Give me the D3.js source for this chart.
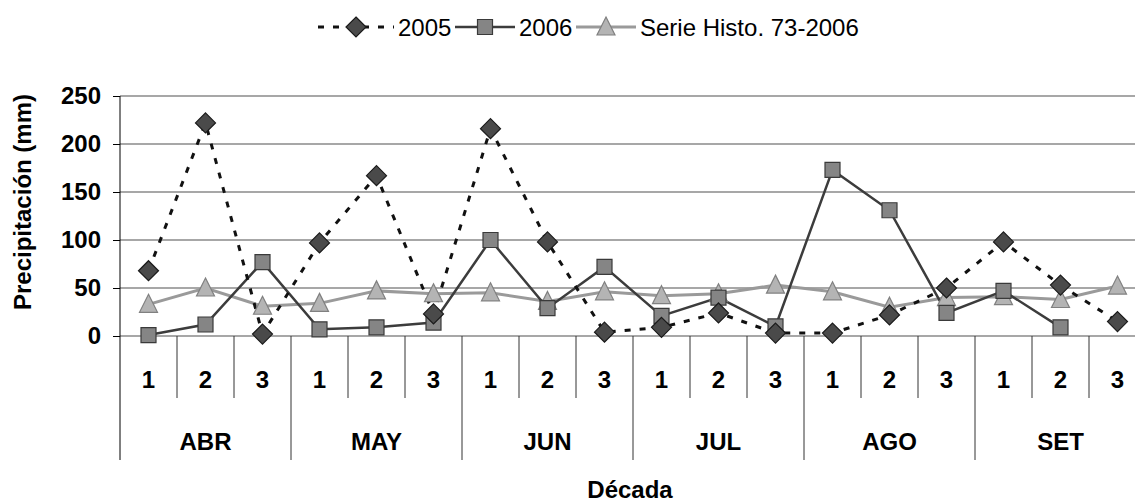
<!DOCTYPE html>
<html lang="es">
<head>
<meta charset="utf-8">
<title>Precipitación por década</title>
<script src="https://cdn.jsdelivr.net/npm/d3@7"></script>
<style>
  body { margin: 0; background: #fff; }
  svg text { font-family: "Liberation Sans", Arial, sans-serif; fill: #000; }
  .bold { font-weight: bold; }
</style>
</head>
<body>
<script>

// categories
var months = ["ABR", "MAY", "JUN", "JUL", "AGO", "SET"];
var decadas = ["1", "2", "3"];

// series values (mm), one per decade, ABR-1 ... SET-3
var serie2005 = [68, 222, 2, 97, 167, 23, 216, 98, 4, 9, 24, 3, 3, 22, 50, 98, 53, 15];
var serie2006 = [1, 12, 77, 7, 9, 14, 100, 29, 72, 21, 40, 10, 173, 131, 24, 47, 9, null];
var serieHist = [33, 50, 31, 34, 47, 44, 45, 36, 46, 42, 44, 53, 46, 30, 40, 41, 38, 52];

var yTicks = [0, 50, 100, 150, 200, 250];
var legendNames = ["2005", "2006", "Serie Histo. 73-2006"];

var width = 1135, height = 502;
var margin = {top: 96, left: 120};
var plotBottom = 336;
var bandW = 57;
var plotRight = margin.left + bandW * 18;   // runs past the window, like the scan

var svg = d3.select("body")
    .append("svg")
    .attr("width", width)
    .attr("height", height);

// category keys
var keys = [];
months.forEach(function(m) {
    decadas.forEach(function(d) { keys.push(m + "-" + d); });
});

var xScale = d3.scaleBand().domain(keys).range([margin.left, plotRight]).padding(0);
var mScale = d3.scaleBand().domain(months).range([margin.left, plotRight]).padding(0);
var yScale = d3.scaleLinear().domain([0, 250]).range([plotBottom, margin.top]);

// gridlines
svg.append("g")
    .selectAll("line")
    .data(yTicks)
    .enter()
    .append("line")
    .attr("x1", margin.left)
    .attr("x2", width)
    .attr("y1", function(d) { return yScale(d); })
    .attr("y2", function(d) { return yScale(d); })
    .attr("stroke", "#8a8a8a")
    .attr("stroke-width", 1.6);

// y axis
var yAxis = d3.axisLeft(yScale).tickValues(yTicks).tickSize(7).tickPadding(12);
var yg = svg.append("g")
    .attr("transform", "translate(" + margin.left + ",0)")
    .call(yAxis);
yg.select(".domain").remove();
yg.selectAll(".tick line").attr("stroke", "#000");
yg.selectAll(".tick text")
    .attr("class", "bold")
    .style("font-size", "24px")
    .attr("font-family", null);

// left axis line, runs down through the label table
svg.append("line")
    .attr("x1", margin.left).attr("x2", margin.left)
    .attr("y1", margin.top).attr("y2", 460)
    .attr("stroke", "#000");

// decade separators
svg.append("g")
    .selectAll("line")
    .data(keys.slice(1))
    .enter()
    .append("line")
    .attr("x1", function(d) { return xScale(d); })
    .attr("x2", function(d) { return xScale(d); })
    .attr("y1", plotBottom)
    .attr("y2", function(d, i) { return ((i + 1) % 3 == 0) ? 460 : 398; })
    .attr("stroke", "#333");

// decade labels
svg.append("g")
    .selectAll("text")
    .data(keys)
    .enter()
    .append("text")
    .attr("class", "bold")
    .attr("text-anchor", "middle")
    .attr("x", function(d) { return xScale(d) + xScale.bandwidth() / 2; })
    .attr("y", 388)
    .style("font-size", "24px")
    .text(function(d) { return d.split("-")[1]; });

// month labels
svg.append("g")
    .selectAll("text")
    .data(months)
    .enter()
    .append("text")
    .attr("class", "bold")
    .attr("text-anchor", "middle")
    .attr("x", function(d) { return mScale(d) + mScale.bandwidth() / 2; })
    .attr("y", 450)
    .style("font-size", "24px")
    .text(function(d) { return d; });

// axis titles
svg.append("text")
    .attr("class", "bold")
    .attr("text-anchor", "middle")
    .attr("transform", "translate(630,498)")
    .style("font-size", "24px")
    .text("Década");

svg.append("text")
    .attr("class", "bold")
    .attr("text-anchor", "middle")
    .attr("transform", "translate(31,202)rotate(-90)")
    .style("font-size", "24px")
    .text("Precipitación (mm)");

// marker shapes
var diamondType = { draw: function(c, s) { var r = Math.sqrt(s) / 2; c.moveTo(0, -r); c.lineTo(r, 0); c.lineTo(0, r); c.lineTo(-r, 0); c.closePath(); } };
var squareType = { draw: function(c, s) { var r = Math.sqrt(s) / 2; c.rect(-r, -r, 2 * r, 2 * r); } };
var triangleType = { draw: function(c, s) { var r = Math.sqrt(s) / 2; c.moveTo(0, -r - 1); c.lineTo(r, r - 1); c.lineTo(-r, r - 1); c.closePath(); } };

var series = [
    {name: legendNames[0], values: serie2005, type: diamondType, size: 400, fill: "#4a4a4a", stroke: "#1a1a1a",
     line: "#111", lw: 3, dash: "6,9"},
    {name: legendNames[1], values: serie2006, type: squareType, size: 225, fill: "#858585", stroke: "#3a3a3a",
     line: "#3c3c3c", lw: 2.5, dash: null},
    {name: legendNames[2], values: serieHist, type: triangleType, size: 324, fill: "#b4b4b4", stroke: "#808080",
     line: "#9a9a9a", lw: 3, dash: null}
];

var line = d3.line()
    .defined(function(d) { return d != null; })
    .x(function(d, i) { return xScale(keys[i]) + xScale.bandwidth() / 2; })
    .y(function(d) { return yScale(d); });

// draw hist first so 2005 sits on top
[2, 1, 0].forEach(function(k) {
    var s = series[k];
    svg.append("path")
        .datum(s.values)
        .attr("d", line)
        .attr("fill", "none")
        .attr("stroke", s.line)
        .attr("stroke-width", s.lw)
        .attr("stroke-dasharray", s.dash);
});
[2, 1, 0].forEach(function(k) {
    var s = series[k];
    svg.append("g")
        .selectAll("path")
        .data(s.values.map(function(v, i) { return {v: v, key: keys[i]}; }).filter(function(d) { return d.v != null; }))
        .enter()
        .append("path")
        .attr("d", d3.symbol().type(s.type).size(s.size))
        .attr("transform", function(d) {
            return "translate(" + (xScale(d.key) + xScale.bandwidth() / 2) + "," + yScale(d.v) + ")";
        })
        .attr("fill", s.fill)
        .attr("stroke", s.stroke)
        .attr("stroke-width", 1.2);
});

// legend
var legendItems = [
    {s: series[0], x1: 318, x2: 394, tx: 398},
    {s: series[1], x1: 455, x2: 515, tx: 519},
    {s: series[2], x1: 576, x2: 636, tx: 640}
];
var lg = svg.append("g").attr("transform", "translate(0,27)");
legendItems.forEach(function(it) {
    lg.append("line")
        .attr("x1", it.x1).attr("x2", it.x2)
        .attr("stroke", it.s.line)
        .attr("stroke-width", it.s.lw)
        .attr("stroke-dasharray", it.s.dash);
    lg.append("path")
        .attr("d", d3.symbol().type(it.s.type).size(it.s.size))
        .attr("transform", "translate(" + ((it.x1 + it.x2) / 2) + ",0)")
        .attr("fill", it.s.fill)
        .attr("stroke", it.s.stroke)
        .attr("stroke-width", 1.2);
    lg.append("text")
        .attr("x", it.tx)
        .attr("y", 9)
        .style("font-size", "24px")
        .text(it.s.name);
});

</script>
</body>
</html>
